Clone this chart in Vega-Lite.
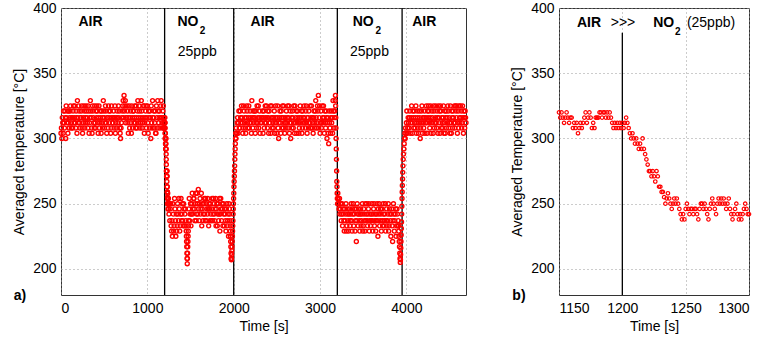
{
"$schema": "https://vega.github.io/schema/vega-lite/v6.json",
"background": "white",
"padding": {"left": 12, "top": 0, "right": 0, "bottom": 0},
"bounds": "flush",
"spacing": 93,
"config": {
  "font": "Liberation Sans",
  "view": {"stroke": "#333333", "strokeWidth": 1},
  "axis": {"labelFont": "Liberation Sans", "titleFont": "Liberation Sans", "labelFontSize": 14, "titleFontSize": 14, "titleFontWeight": "normal", "labelColor": "#000000", "titleColor": "#000000", "ticks": false, "domain": false, "grid": true, "gridColor": "#999999", "gridDash": [1, 3], "gridWidth": 1, "labelPadding": 5},
  "axisX": {"labelPadding": 6, "titlePadding": 4, "format": "d"},
  "axisY": {"titlePadding": 6}
},
"datasets": {
  "full": [
{"x":0,"y":304},{"x":10,"y":300},{"x":20,"y":312},{"x":30,"y":321},{"x":40,"y":308},{"x":50,"y":316},{"x":60,"y":325},{"x":70,"y":312},{"x":80,"y":304},{"x":90,"y":321},
{"x":100,"y":316},{"x":110,"y":325},{"x":120,"y":308},{"x":130,"y":316},{"x":140,"y":321},{"x":150,"y":312},{"x":160,"y":325},{"x":170,"y":308},{"x":180,"y":316},{"x":190,"y":329},
{"x":200,"y":312},{"x":210,"y":321},{"x":220,"y":308},{"x":230,"y":316},{"x":240,"y":325},{"x":250,"y":304},{"x":260,"y":316},{"x":270,"y":321},{"x":280,"y":312},{"x":290,"y":325},
{"x":300,"y":316},{"x":310,"y":308},{"x":320,"y":321},{"x":330,"y":312},{"x":340,"y":329},{"x":350,"y":316},{"x":360,"y":304},{"x":370,"y":321},{"x":380,"y":312},{"x":390,"y":325},
{"x":400,"y":308},{"x":410,"y":316},{"x":420,"y":321},{"x":430,"y":304},{"x":440,"y":325},{"x":450,"y":312},{"x":460,"y":316},{"x":470,"y":321},{"x":480,"y":308},{"x":490,"y":329},
{"x":500,"y":316},{"x":510,"y":312},{"x":520,"y":321},{"x":530,"y":304},{"x":540,"y":316},{"x":550,"y":325},{"x":560,"y":312},{"x":570,"y":321},{"x":580,"y":308},{"x":590,"y":316},
{"x":600,"y":312},{"x":610,"y":321},{"x":620,"y":316},{"x":630,"y":304},{"x":640,"y":316},{"x":650,"y":321},{"x":660,"y":312},{"x":670,"y":316},{"x":680,"y":308},{"x":690,"y":300},
{"x":700,"y":312},{"x":710,"y":321},{"x":720,"y":329},{"x":730,"y":333},{"x":740,"y":325},{"x":750,"y":312},{"x":760,"y":316},{"x":770,"y":321},{"x":780,"y":304},{"x":790,"y":325},
{"x":800,"y":316},{"x":810,"y":312},{"x":820,"y":325},{"x":830,"y":308},{"x":840,"y":321},{"x":850,"y":316},{"x":860,"y":312},{"x":870,"y":325},{"x":880,"y":308},{"x":890,"y":329},
{"x":900,"y":316},{"x":910,"y":321},{"x":920,"y":312},{"x":930,"y":329},{"x":940,"y":308},{"x":950,"y":316},{"x":960,"y":325},{"x":970,"y":312},{"x":980,"y":321},{"x":990,"y":308},
{"x":1000,"y":325},{"x":1010,"y":304},{"x":1020,"y":316},{"x":1030,"y":321},{"x":1040,"y":300},{"x":1050,"y":312},{"x":1060,"y":329},{"x":1070,"y":316},{"x":1080,"y":308},{"x":1090,"y":321},
{"x":1100,"y":304},{"x":1110,"y":316},{"x":1120,"y":329},{"x":1130,"y":312},{"x":1140,"y":321},{"x":1150,"y":316},{"x":1160,"y":329},{"x":1170,"y":312},{"x":1180,"y":321},{"x":1190,"y":316},
{"x":5,"y":308},{"x":15,"y":316},{"x":25,"y":304},{"x":35,"y":312},{"x":45,"y":321},{"x":55,"y":300},{"x":65,"y":316},{"x":75,"y":321},{"x":85,"y":312},{"x":95,"y":308},
{"x":105,"y":321},{"x":115,"y":312},{"x":125,"y":316},{"x":135,"y":308},{"x":145,"y":325},{"x":155,"y":316},{"x":165,"y":312},{"x":175,"y":321},{"x":185,"y":304},{"x":195,"y":316},
{"x":205,"y":325},{"x":215,"y":312},{"x":225,"y":316},{"x":235,"y":321},{"x":245,"y":308},{"x":255,"y":312},{"x":265,"y":325},{"x":275,"y":308},{"x":285,"y":316},{"x":295,"y":321},
{"x":305,"y":312},{"x":315,"y":325},{"x":325,"y":304},{"x":335,"y":316},{"x":345,"y":321},{"x":355,"y":308},{"x":365,"y":325},{"x":375,"y":316},{"x":385,"y":308},{"x":395,"y":312},
{"x":405,"y":321},{"x":415,"y":325},{"x":425,"y":312},{"x":435,"y":316},{"x":445,"y":308},{"x":455,"y":321},{"x":465,"y":304},{"x":475,"y":312},{"x":485,"y":316},{"x":495,"y":321},
{"x":505,"y":308},{"x":515,"y":325},{"x":525,"y":312},{"x":535,"y":316},{"x":545,"y":308},{"x":555,"y":321},{"x":565,"y":316},{"x":575,"y":304},{"x":585,"y":325},{"x":595,"y":312},
{"x":605,"y":316},{"x":615,"y":308},{"x":625,"y":325},{"x":635,"y":312},{"x":645,"y":308},{"x":655,"y":316},{"x":665,"y":325},{"x":675,"y":321},{"x":685,"y":304},{"x":695,"y":308},
{"x":705,"y":316},{"x":715,"y":325},{"x":725,"y":316},{"x":735,"y":321},{"x":745,"y":329},{"x":755,"y":316},{"x":765,"y":325},{"x":775,"y":312},{"x":785,"y":316},{"x":795,"y":308},
{"x":805,"y":321},{"x":815,"y":304},{"x":825,"y":316},{"x":835,"y":321},{"x":845,"y":312},{"x":855,"y":325},{"x":865,"y":308},{"x":875,"y":316},{"x":885,"y":321},{"x":895,"y":312},
{"x":905,"y":325},{"x":915,"y":308},{"x":925,"y":316},{"x":935,"y":321},{"x":945,"y":312},{"x":955,"y":325},{"x":965,"y":304},{"x":975,"y":316},{"x":985,"y":325},{"x":995,"y":316},
{"x":1005,"y":312},{"x":1015,"y":321},{"x":1025,"y":308},{"x":1035,"y":316},{"x":1045,"y":325},{"x":1055,"y":308},{"x":1065,"y":316},{"x":1075,"y":321},{"x":1085,"y":312},{"x":1095,"y":304},
{"x":1105,"y":325},{"x":1115,"y":308},{"x":1125,"y":321},{"x":1135,"y":316},{"x":1145,"y":308},{"x":1155,"y":325},{"x":1165,"y":316},{"x":1175,"y":308},{"x":1185,"y":325},
{"x":1191,"y":316},{"x":1192,"y":312},{"x":1193,"y":308},{"x":1194,"y":312},{"x":1195,"y":308},{"x":1196,"y":312},{"x":1197,"y":308},{"x":1198,"y":312},{"x":1199,"y":308},{"x":1200,"y":312},
{"x":1201,"y":308},{"x":1202,"y":312},{"x":1203,"y":316},{"x":1204,"y":312},{"x":1205,"y":308},{"x":1206,"y":304},{"x":1207,"y":300},{"x":1208,"y":304},{"x":1209,"y":300},{"x":1210,"y":296},
{"x":1211,"y":300},{"x":1212,"y":296},{"x":1213,"y":292},{"x":1214,"y":296},{"x":1215,"y":292},{"x":1216,"y":300},{"x":1217,"y":292},{"x":1218,"y":288},{"x":1219,"y":284},{"x":1220,"y":280},
{"x":1221,"y":275},{"x":1222,"y":275},{"x":1223,"y":271},{"x":1224,"y":275},{"x":1225,"y":271},{"x":1226,"y":267},{"x":1227,"y":275},{"x":1228,"y":271},{"x":1229,"y":263},{"x":1230,"y":263},
{"x":1231,"y":259},{"x":1232,"y":259},{"x":1233,"y":255},{"x":1234,"y":250},{"x":1235,"y":254},{"x":1236,"y":258},{"x":1237,"y":254},{"x":1238,"y":250},{"x":1239,"y":246},{"x":1240,"y":250},
{"x":1241,"y":254},{"x":1242,"y":250},{"x":1243,"y":254},{"x":1244,"y":250},{"x":1245,"y":246},
{"x":1250,"y":242},{"x":1260,"y":237},{"x":1270,"y":250},{"x":1280,"y":229},{"x":1290,"y":225},{"x":1300,"y":242},{"x":1310,"y":233},{"x":1320,"y":246},{"x":1330,"y":225},{"x":1340,"y":229},
{"x":1350,"y":250},{"x":1360,"y":237},{"x":1370,"y":246},{"x":1380,"y":233},{"x":1390,"y":254},{"x":1400,"y":242},{"x":1410,"y":237},{"x":1420,"y":250},{"x":1430,"y":233},{"x":1440,"y":246},
{"x":1446,"y":237},{"x":1448,"y":233},{"x":1450,"y":229},{"x":1452,"y":225},{"x":1454,"y":221},{"x":1456,"y":217},{"x":1458,"y":212},{"x":1460,"y":208},{"x":1462,"y":204},{"x":1464,"y":208},
{"x":1466,"y":212},{"x":1468,"y":217},{"x":1470,"y":221},{"x":1472,"y":225},{"x":1474,"y":229},{"x":1476,"y":233},{"x":1478,"y":237},
{"x":1480,"y":246},{"x":1490,"y":237},{"x":1500,"y":250},{"x":1510,"y":242},{"x":1520,"y":258},{"x":1530,"y":246},{"x":1540,"y":254},{"x":1550,"y":237},{"x":1560,"y":258},{"x":1570,"y":242},
{"x":1580,"y":250},{"x":1590,"y":261},{"x":1600,"y":237},{"x":1610,"y":254},{"x":1620,"y":246},{"x":1630,"y":233},{"x":1640,"y":250},{"x":1650,"y":242},{"x":1660,"y":254},{"x":1670,"y":237},
{"x":1680,"y":250},{"x":1690,"y":246},{"x":1700,"y":254},{"x":1710,"y":233},{"x":1720,"y":246},{"x":1730,"y":250},{"x":1740,"y":237},{"x":1750,"y":254},{"x":1760,"y":242},{"x":1770,"y":250},
{"x":1780,"y":237},{"x":1790,"y":254},{"x":1800,"y":246},{"x":1810,"y":233},{"x":1820,"y":250},{"x":1830,"y":242},{"x":1840,"y":229},{"x":1850,"y":254},{"x":1860,"y":237},{"x":1870,"y":246},
{"x":1880,"y":250},{"x":1890,"y":233},{"x":1900,"y":242},{"x":1910,"y":229},{"x":1920,"y":250},{"x":1930,"y":237},{"x":1940,"y":225},{"x":1950,"y":246},
{"x":1255,"y":250},{"x":1265,"y":246},{"x":1275,"y":233},{"x":1285,"y":237},{"x":1295,"y":250},{"x":1305,"y":229},{"x":1315,"y":254},{"x":1325,"y":237},{"x":1335,"y":242},{"x":1345,"y":233},
{"x":1355,"y":242},{"x":1365,"y":254},{"x":1375,"y":229},{"x":1385,"y":242},{"x":1395,"y":237},{"x":1405,"y":250},{"x":1415,"y":233},{"x":1425,"y":246},{"x":1435,"y":242},
{"x":1485,"y":254},{"x":1495,"y":242},{"x":1505,"y":233},{"x":1515,"y":250},{"x":1525,"y":242},{"x":1535,"y":254},{"x":1545,"y":246},{"x":1555,"y":250},{"x":1565,"y":237},{"x":1575,"y":258},{"x":1585,"y":242},{"x":1595,"y":246},
{"x":1605,"y":250},{"x":1615,"y":242},{"x":1625,"y":258},{"x":1635,"y":246},{"x":1645,"y":237},{"x":1655,"y":250},{"x":1665,"y":242},{"x":1675,"y":254},{"x":1685,"y":237},{"x":1695,"y":242},
{"x":1705,"y":246},{"x":1715,"y":250},{"x":1725,"y":237},{"x":1735,"y":242},{"x":1745,"y":246},{"x":1755,"y":237},{"x":1765,"y":254},{"x":1775,"y":242},{"x":1785,"y":246},{"x":1795,"y":233},
{"x":1805,"y":250},{"x":1815,"y":242},{"x":1825,"y":237},{"x":1835,"y":254},{"x":1845,"y":242},{"x":1855,"y":246},{"x":1865,"y":250},{"x":1875,"y":233},{"x":1885,"y":242},{"x":1895,"y":246},
{"x":1905,"y":237},{"x":1915,"y":246},{"x":1925,"y":233},{"x":1935,"y":242},{"x":1945,"y":250},
{"x":1955,"y":242},{"x":1957,"y":237},{"x":1959,"y":233},{"x":1961,"y":229},{"x":1963,"y":225},{"x":1965,"y":221},{"x":1967,"y":217},{"x":1969,"y":212},{"x":1971,"y":208},{"x":1973,"y":207},
{"x":1975,"y":208},{"x":1977,"y":211},{"x":1979,"y":214},{"x":1981,"y":217},{"x":1983,"y":221},{"x":1985,"y":225},{"x":1987,"y":229},{"x":1989,"y":233},{"x":1991,"y":237},{"x":1993,"y":242},
{"x":1995,"y":246},{"x":1997,"y":250},{"x":1999,"y":254},{"x":2001,"y":258},{"x":2003,"y":263},{"x":2005,"y":267},{"x":2007,"y":271},{"x":2009,"y":275},{"x":2011,"y":279},{"x":2013,"y":284},
{"x":2015,"y":288},{"x":2017,"y":292},{"x":2019,"y":296},{"x":2021,"y":300},{"x":2023,"y":304},{"x":2026,"y":300},{"x":2030,"y":308},
{"x":2040,"y":312},{"x":2050,"y":304},{"x":2060,"y":321},{"x":2070,"y":308},{"x":2080,"y":316},{"x":2090,"y":325},{"x":2100,"y":312},{"x":2110,"y":308},{"x":2120,"y":321},{"x":2130,"y":316},
{"x":2140,"y":304},{"x":2150,"y":325},{"x":2160,"y":312},{"x":2170,"y":316},{"x":2180,"y":308},{"x":2190,"y":321},{"x":2200,"y":312},{"x":2210,"y":329},{"x":2220,"y":308},{"x":2230,"y":316},
{"x":2240,"y":321},{"x":2250,"y":304},{"x":2260,"y":312},{"x":2270,"y":325},{"x":2280,"y":316},{"x":2290,"y":308},{"x":2300,"y":321},{"x":2310,"y":312},{"x":2320,"y":329},{"x":2330,"y":316},
{"x":2340,"y":304},{"x":2350,"y":321},{"x":2360,"y":312},{"x":2370,"y":316},{"x":2380,"y":325},{"x":2390,"y":308},{"x":2400,"y":316},{"x":2410,"y":321},{"x":2420,"y":312},{"x":2430,"y":304},
{"x":2440,"y":325},{"x":2450,"y":316},{"x":2460,"y":308},{"x":2470,"y":321},{"x":2480,"y":312},{"x":2490,"y":316},{"x":2500,"y":304},{"x":2510,"y":325},{"x":2520,"y":300},{"x":2530,"y":316},
{"x":2540,"y":312},{"x":2550,"y":321},{"x":2560,"y":308},{"x":2570,"y":316},{"x":2580,"y":325},{"x":2590,"y":304},{"x":2600,"y":312},{"x":2610,"y":321},{"x":2620,"y":316},{"x":2630,"y":308},
{"x":2640,"y":325},{"x":2650,"y":312},{"x":2660,"y":300},{"x":2670,"y":316},{"x":2680,"y":321},{"x":2690,"y":308},{"x":2700,"y":312},{"x":2710,"y":325},{"x":2720,"y":316},{"x":2730,"y":304},
{"x":2740,"y":321},{"x":2750,"y":312},{"x":2760,"y":308},{"x":2770,"y":325},{"x":2780,"y":316},{"x":2790,"y":304},{"x":2800,"y":321},{"x":2810,"y":312},{"x":2820,"y":316},{"x":2830,"y":308},
{"x":2840,"y":325},{"x":2850,"y":304},{"x":2860,"y":316},{"x":2870,"y":321},{"x":2880,"y":312},{"x":2890,"y":308},{"x":2900,"y":325},{"x":2910,"y":316},{"x":2920,"y":304},{"x":2930,"y":321},
{"x":2940,"y":312},{"x":2950,"y":329},{"x":2960,"y":308},{"x":2970,"y":325},{"x":2980,"y":333},{"x":2990,"y":316},{"x":3000,"y":304},{"x":3010,"y":321},{"x":3020,"y":312},{"x":3030,"y":316},
{"x":3040,"y":325},{"x":3050,"y":304},{"x":3060,"y":312},{"x":3070,"y":321},{"x":3080,"y":300},{"x":3090,"y":316},{"x":3100,"y":296},{"x":3110,"y":312},{"x":3120,"y":304},{"x":3130,"y":321},
{"x":3140,"y":316},{"x":3150,"y":329},{"x":3160,"y":308},{"x":3170,"y":321},{"x":3175,"y":329},{"x":3178,"y":333},
{"x":2035,"y":304},{"x":2045,"y":316},{"x":2055,"y":312},{"x":2065,"y":308},{"x":2075,"y":321},{"x":2085,"y":312},{"x":2095,"y":316},{"x":2105,"y":304},{"x":2115,"y":325},{"x":2125,"y":312},
{"x":2135,"y":308},{"x":2145,"y":316},{"x":2155,"y":321},{"x":2165,"y":308},{"x":2175,"y":325},{"x":2185,"y":312},{"x":2195,"y":316},{"x":2205,"y":304},{"x":2215,"y":316},{"x":2225,"y":321},
{"x":2235,"y":312},{"x":2245,"y":316},{"x":2255,"y":321},{"x":2265,"y":308},{"x":2275,"y":312},{"x":2285,"y":325},{"x":2295,"y":316},{"x":2305,"y":304},{"x":2315,"y":316},{"x":2325,"y":312},
{"x":2335,"y":321},{"x":2345,"y":316},{"x":2355,"y":308},{"x":2365,"y":325},{"x":2375,"y":312},{"x":2385,"y":316},{"x":2395,"y":321},{"x":2405,"y":304},{"x":2415,"y":312},{"x":2425,"y":325},
{"x":2435,"y":316},{"x":2445,"y":308},{"x":2455,"y":312},{"x":2465,"y":316},{"x":2475,"y":304},{"x":2485,"y":325},{"x":2495,"y":312},{"x":2505,"y":316},{"x":2515,"y":308},{"x":2525,"y":312},
{"x":2535,"y":321},{"x":2545,"y":304},{"x":2555,"y":316},{"x":2565,"y":325},{"x":2575,"y":308},{"x":2585,"y":312},{"x":2595,"y":316},{"x":2605,"y":308},{"x":2615,"y":312},{"x":2625,"y":325},
{"x":2635,"y":316},{"x":2645,"y":304},{"x":2655,"y":321},{"x":2665,"y":312},{"x":2675,"y":308},{"x":2685,"y":316},{"x":2695,"y":325},{"x":2705,"y":304},{"x":2715,"y":312},{"x":2725,"y":321},
{"x":2735,"y":312},{"x":2745,"y":316},{"x":2755,"y":304},{"x":2765,"y":316},{"x":2775,"y":312},{"x":2785,"y":321},{"x":2795,"y":308},{"x":2805,"y":316},{"x":2815,"y":325},{"x":2825,"y":312},
{"x":2835,"y":321},{"x":2845,"y":312},{"x":2855,"y":316},{"x":2865,"y":308},{"x":2875,"y":312},{"x":2885,"y":325},{"x":2895,"y":316},{"x":2905,"y":308},{"x":2915,"y":312},{"x":2925,"y":316},
{"x":2935,"y":308},{"x":2945,"y":321},{"x":2955,"y":316},{"x":2965,"y":312},{"x":2975,"y":321},{"x":2985,"y":308},{"x":2995,"y":325},{"x":3005,"y":312},{"x":3015,"y":308},{"x":3025,"y":325},
{"x":3035,"y":312},{"x":3045,"y":316},{"x":3055,"y":321},{"x":3065,"y":308},{"x":3075,"y":316},{"x":3085,"y":312},{"x":3095,"y":304},{"x":3105,"y":321},{"x":3115,"y":308},{"x":3125,"y":316},
{"x":3135,"y":312},{"x":3145,"y":304},{"x":3155,"y":321},{"x":3165,"y":316},
{"x":3180,"y":325},{"x":3182,"y":316},{"x":3184,"y":308},{"x":3186,"y":300},{"x":3188,"y":292},{"x":3190,"y":284},{"x":3192,"y":275},{"x":3194,"y":267},{"x":3196,"y":263},{"x":3198,"y":258},
{"x":3200,"y":254},{"x":3203,"y":250},{"x":3206,"y":258},{"x":3210,"y":254},{"x":3215,"y":250},{"x":3220,"y":246},{"x":3225,"y":254},{"x":3230,"y":242},
{"x":3240,"y":250},{"x":3250,"y":242},{"x":3260,"y":233},{"x":3270,"y":246},{"x":3280,"y":229},{"x":3290,"y":237},{"x":3300,"y":250},{"x":3310,"y":233},{"x":3320,"y":242},{"x":3330,"y":229},
{"x":3340,"y":246},{"x":3350,"y":237},{"x":3360,"y":250},{"x":3370,"y":229},{"x":3380,"y":242},{"x":3390,"y":233},{"x":3400,"y":246},{"x":3410,"y":237},{"x":3420,"y":221},{"x":3430,"y":250},
{"x":3440,"y":233},{"x":3450,"y":242},{"x":3460,"y":229},{"x":3470,"y":246},{"x":3480,"y":237},{"x":3490,"y":250},{"x":3500,"y":233},{"x":3510,"y":242},{"x":3520,"y":229},{"x":3530,"y":237},
{"x":3540,"y":250},{"x":3550,"y":233},{"x":3560,"y":246},{"x":3570,"y":229},{"x":3580,"y":242},{"x":3590,"y":237},{"x":3600,"y":250},{"x":3610,"y":229},{"x":3620,"y":246},{"x":3630,"y":233},
{"x":3640,"y":242},{"x":3650,"y":237},{"x":3660,"y":250},{"x":3670,"y":225},{"x":3680,"y":242},{"x":3690,"y":233},{"x":3700,"y":246},{"x":3710,"y":229},{"x":3720,"y":237},{"x":3730,"y":250},
{"x":3740,"y":233},{"x":3750,"y":242},{"x":3760,"y":229},{"x":3770,"y":246},{"x":3780,"y":237},{"x":3790,"y":250},{"x":3800,"y":233},{"x":3810,"y":242},{"x":3820,"y":225},{"x":3830,"y":246},
{"x":3840,"y":221},{"x":3850,"y":250},{"x":3860,"y":229},{"x":3870,"y":242},{"x":3880,"y":225},{"x":3890,"y":246},{"x":3900,"y":233},
{"x":3235,"y":246},{"x":3245,"y":237},{"x":3255,"y":250},{"x":3265,"y":242},{"x":3275,"y":237},{"x":3285,"y":246},{"x":3295,"y":242},{"x":3305,"y":229},{"x":3315,"y":246},{"x":3325,"y":237},
{"x":3335,"y":242},{"x":3345,"y":233},{"x":3355,"y":242},{"x":3365,"y":237},{"x":3375,"y":246},{"x":3385,"y":250},{"x":3395,"y":242},{"x":3405,"y":229},{"x":3415,"y":246},{"x":3425,"y":237},
{"x":3435,"y":242},{"x":3445,"y":246},{"x":3455,"y":237},{"x":3465,"y":242},{"x":3475,"y":233},{"x":3485,"y":242},{"x":3495,"y":229},{"x":3505,"y":246},{"x":3515,"y":237},{"x":3525,"y":250},
{"x":3535,"y":242},{"x":3545,"y":237},{"x":3555,"y":242},{"x":3565,"y":250},{"x":3575,"y":237},{"x":3585,"y":233},{"x":3595,"y":242},{"x":3605,"y":237},{"x":3615,"y":242},{"x":3625,"y":250},
{"x":3635,"y":237},{"x":3645,"y":229},{"x":3655,"y":242},{"x":3665,"y":237},{"x":3675,"y":246},{"x":3685,"y":250},{"x":3695,"y":237},{"x":3705,"y":242},{"x":3715,"y":246},{"x":3725,"y":233},
{"x":3735,"y":242},{"x":3745,"y":237},{"x":3755,"y":250},{"x":3765,"y":237},{"x":3775,"y":233},{"x":3785,"y":242},{"x":3795,"y":229},{"x":3805,"y":246},{"x":3815,"y":237},{"x":3825,"y":242},
{"x":3835,"y":233},{"x":3845,"y":237},{"x":3855,"y":242},{"x":3865,"y":237},{"x":3875,"y":246},{"x":3885,"y":233},{"x":3895,"y":242},
{"x":3905,"y":237},{"x":3908,"y":233},{"x":3911,"y":229},{"x":3914,"y":225},{"x":3917,"y":221},{"x":3920,"y":217},{"x":3923,"y":212},{"x":3926,"y":208},{"x":3929,"y":205},{"x":3931,"y":207},
{"x":3933,"y":211},{"x":3935,"y":216},{"x":3937,"y":221},{"x":3939,"y":226},{"x":3941,"y":231},{"x":3943,"y":236},{"x":3945,"y":242},{"x":3947,"y":248},{"x":3949,"y":254},{"x":3951,"y":259},
{"x":3953,"y":264},{"x":3955,"y":269},{"x":3957,"y":274},{"x":3960,"y":279},{"x":3963,"y":284},{"x":3966,"y":288},{"x":3970,"y":292},{"x":3974,"y":296},{"x":3978,"y":300},{"x":3982,"y":304},
{"x":3986,"y":300},{"x":3990,"y":308},
{"x":4000,"y":312},{"x":4010,"y":304},{"x":4020,"y":316},{"x":4030,"y":308},{"x":4040,"y":321},{"x":4050,"y":312},{"x":4060,"y":325},{"x":4070,"y":304},{"x":4080,"y":316},{"x":4090,"y":321},
{"x":4100,"y":308},{"x":4110,"y":325},{"x":4120,"y":312},{"x":4130,"y":316},{"x":4140,"y":304},{"x":4150,"y":321},{"x":4160,"y":300},{"x":4170,"y":312},{"x":4180,"y":325},{"x":4190,"y":316},
{"x":4200,"y":308},{"x":4210,"y":321},{"x":4220,"y":312},{"x":4230,"y":325},{"x":4240,"y":304},{"x":4250,"y":316},{"x":4260,"y":321},{"x":4270,"y":308},{"x":4280,"y":325},{"x":4290,"y":312},
{"x":4300,"y":316},{"x":4310,"y":304},{"x":4320,"y":321},{"x":4330,"y":312},{"x":4340,"y":325},{"x":4350,"y":308},{"x":4360,"y":316},{"x":4370,"y":325},{"x":4380,"y":312},{"x":4390,"y":304},
{"x":4400,"y":321},{"x":4410,"y":316},{"x":4420,"y":308},{"x":4430,"y":325},{"x":4440,"y":312},{"x":4450,"y":304},{"x":4460,"y":321},{"x":4470,"y":316},{"x":4480,"y":325},{"x":4490,"y":308},
{"x":4500,"y":312},{"x":4510,"y":325},{"x":4520,"y":304},{"x":4530,"y":316},{"x":4540,"y":321},{"x":4550,"y":312},{"x":4560,"y":308},{"x":4570,"y":325},{"x":4580,"y":316},{"x":4590,"y":304},
{"x":4600,"y":321},{"x":4610,"y":325},{"x":4620,"y":312},{"x":4630,"y":316},{"x":4640,"y":308},{"x":4650,"y":325},{"x":4660,"y":304},{"x":4670,"y":316},{"x":4680,"y":321},{"x":4690,"y":312},
{"x":3995,"y":304},{"x":4005,"y":321},{"x":4015,"y":308},{"x":4025,"y":312},{"x":4035,"y":316},{"x":4045,"y":304},{"x":4055,"y":316},{"x":4065,"y":312},{"x":4075,"y":321},{"x":4085,"y":308},
{"x":4095,"y":312},{"x":4105,"y":316},{"x":4115,"y":304},{"x":4125,"y":321},{"x":4135,"y":308},{"x":4145,"y":312},{"x":4155,"y":316},{"x":4165,"y":308},{"x":4175,"y":321},{"x":4185,"y":304},
{"x":4195,"y":312},{"x":4205,"y":316},{"x":4215,"y":304},{"x":4225,"y":316},{"x":4235,"y":312},{"x":4245,"y":321},{"x":4255,"y":325},{"x":4265,"y":312},{"x":4275,"y":316},{"x":4285,"y":304},
{"x":4295,"y":321},{"x":4305,"y":312},{"x":4315,"y":325},{"x":4325,"y":308},{"x":4335,"y":316},{"x":4345,"y":312},{"x":4355,"y":321},{"x":4365,"y":304},{"x":4375,"y":316},{"x":4385,"y":321},
{"x":4395,"y":325},{"x":4405,"y":308},{"x":4415,"y":312},{"x":4425,"y":316},{"x":4435,"y":304},{"x":4445,"y":321},{"x":4455,"y":316},{"x":4465,"y":308},{"x":4475,"y":312},{"x":4485,"y":321},
{"x":4495,"y":316},{"x":4505,"y":304},{"x":4515,"y":312},{"x":4525,"y":321},{"x":4535,"y":308},{"x":4545,"y":316},{"x":4555,"y":325},{"x":4565,"y":312},{"x":4575,"y":321},{"x":4585,"y":325},
{"x":4595,"y":312},{"x":4605,"y":308},{"x":4615,"y":316},{"x":4625,"y":325},{"x":4635,"y":321},{"x":4645,"y":312},{"x":4655,"y":316},{"x":4665,"y":321},{"x":4675,"y":308},{"x":4685,"y":316}
  ],
  "zoom": [
{"x":1150,"y":320},{"x":1151,"y":316},{"x":1152,"y":320},{"x":1153,"y":316},{"x":1154,"y":312},{"x":1155,"y":316},{"x":1156,"y":320},{"x":1157,"y":316},{"x":1158,"y":312},{"x":1159,"y":316},
{"x":1160,"y":316},{"x":1161,"y":308},{"x":1162,"y":312},{"x":1163,"y":308},{"x":1164,"y":312},{"x":1165,"y":304},{"x":1166,"y":308},{"x":1167,"y":312},{"x":1168,"y":308},{"x":1169,"y":312},
{"x":1170,"y":316},{"x":1171,"y":320},{"x":1172,"y":312},{"x":1173,"y":316},{"x":1174,"y":320},{"x":1175,"y":316},{"x":1176,"y":308},{"x":1177,"y":312},{"x":1178,"y":308},{"x":1179,"y":316},
{"x":1180,"y":316},{"x":1181,"y":316},{"x":1182,"y":320},{"x":1183,"y":320},{"x":1184,"y":316},{"x":1185,"y":320},{"x":1186,"y":320},{"x":1187,"y":316},{"x":1188,"y":320},{"x":1189,"y":316},
{"x":1190,"y":320},{"x":1191,"y":316},{"x":1192,"y":312},{"x":1193,"y":308},{"x":1194,"y":312},{"x":1195,"y":308},{"x":1196,"y":312},{"x":1197,"y":308},{"x":1198,"y":312},{"x":1199,"y":308},
{"x":1200,"y":312},{"x":1201,"y":308},{"x":1202,"y":312},{"x":1203,"y":316},{"x":1204,"y":312},{"x":1205,"y":308},{"x":1206,"y":304},{"x":1207,"y":300},{"x":1208,"y":304},{"x":1209,"y":300},
{"x":1210,"y":296},{"x":1211,"y":300},{"x":1212,"y":296},{"x":1213,"y":292},{"x":1214,"y":296},{"x":1215,"y":292},{"x":1216,"y":300},{"x":1217,"y":292},{"x":1218,"y":288},{"x":1219,"y":284},
{"x":1220,"y":280},{"x":1221,"y":275},{"x":1222,"y":275},{"x":1223,"y":271},{"x":1224,"y":275},{"x":1225,"y":271},{"x":1226,"y":267},{"x":1227,"y":275},{"x":1228,"y":271},{"x":1229,"y":263},
{"x":1230,"y":263},{"x":1231,"y":259},{"x":1232,"y":259},{"x":1233,"y":255},{"x":1234,"y":250},{"x":1235,"y":254},{"x":1236,"y":258},{"x":1237,"y":254},{"x":1238,"y":250},{"x":1239,"y":246},
{"x":1240,"y":250},{"x":1241,"y":254},{"x":1242,"y":250},{"x":1243,"y":254},{"x":1244,"y":250},{"x":1245,"y":246},{"x":1246,"y":242},{"x":1247,"y":238},{"x":1248,"y":242},{"x":1249,"y":238},
{"x":1250,"y":246},{"x":1251,"y":250},{"x":1252,"y":246},{"x":1253,"y":242},{"x":1254,"y":246},{"x":1255,"y":246},{"x":1256,"y":242},{"x":1257,"y":246},{"x":1258,"y":246},{"x":1259,"y":242},
{"x":1260,"y":238},{"x":1261,"y":246},{"x":1262,"y":250},{"x":1263,"y":250},{"x":1264,"y":246},{"x":1265,"y":250},{"x":1266,"y":246},{"x":1267,"y":242},{"x":1268,"y":238},{"x":1269,"y":246},
{"x":1270,"y":250},{"x":1271,"y":254},{"x":1272,"y":250},{"x":1273,"y":246},{"x":1274,"y":242},{"x":1275,"y":250},{"x":1276,"y":254},{"x":1277,"y":250},{"x":1278,"y":254},{"x":1279,"y":250},
{"x":1280,"y":254},{"x":1281,"y":250},{"x":1282,"y":246},{"x":1283,"y":250},{"x":1284,"y":254},{"x":1285,"y":246},{"x":1286,"y":242},{"x":1287,"y":238},{"x":1288,"y":242},{"x":1289,"y":246},
{"x":1290,"y":250},{"x":1291,"y":242},{"x":1292,"y":238},{"x":1293,"y":242},{"x":1294,"y":238},{"x":1295,"y":242},{"x":1296,"y":246},{"x":1297,"y":250},{"x":1298,"y":246},{"x":1299,"y":242},
{"x":1300,"y":242}
  ],
  "vlinesA": [{"x":1200,"y":180,"y2":400},{"x":2000,"y":180,"y2":400},{"x":3200,"y":180,"y2":400},{"x":3950,"y":180,"y2":400}],
  "vlinesB": [{"x":1200,"y":180,"y2":381}],
  "boldA": [{"x":341,"y":389,"label":"AIR"},{"x":2335,"y":389,"label":"AIR"},{"x":4206,"y":389,"label":"AIR"},{"x":1470,"y":389,"label":"NO"},{"x":3499,"y":389,"label":"NO"},{"x":-476,"y":179,"label":"a)"}],
  "subA": [{"x":1640,"y":382,"label":"2"},{"x":3673,"y":382,"label":"2"}],
  "normA": [{"x":1578,"y":366,"label":"25ppb"},{"x":3572,"y":366,"label":"25ppb"}],
  "boldB": [{"x":1173.7,"y":388.5,"label":"AIR"},{"x":1232.7,"y":388.5,"label":"NO"},{"x":1118.4,"y":179,"label":"b)"}],
  "subB": [{"x":1243.8,"y":381.8,"label":"2"}],
  "normB": [{"x":1200.5,"y":388.5,"label":">>>"},{"x":1270,"y":388.5,"label":"(25ppb)"}]
},
"hconcat": [
  {
    "width": 405, "height": 287,
    "encoding": {
      "x": {"field": "x", "type": "quantitative", "scale": {"domain": [0, 4690], "nice": false, "zero": false}, "axis": {"values": [0, 1000, 2000, 3000, 4000], "title": "Time [s]"}},
      "y": {"field": "y", "type": "quantitative", "scale": {"domain": [180, 400], "nice": false, "zero": false}, "axis": {"values": [200, 250, 300, 350, 400], "title": "Averaged temperature [°C]"}}
    },
    "layer": [
      {"data": {"name": "vlinesA"}, "mark": {"type": "rule", "color": "#000000", "strokeWidth": 1.3}, "encoding": {"y2": {"field": "y2"}}},
      {"data": {"name": "full"}, "mark": {"type": "point", "shape": "circle", "filled": false, "color": "#ff0000", "size": 16, "strokeWidth": 1.4, "opacity": 1}},
      {"data": {"name": "boldA"}, "mark": {"type": "text", "font": "Liberation Sans", "fontSize": 14, "fontWeight": "bold", "color": "#000000", "align": "center", "baseline": "middle"}, "encoding": {"text": {"field": "label"}}},
      {"data": {"name": "subA"}, "mark": {"type": "text", "font": "Liberation Sans", "fontSize": 10, "fontWeight": "bold", "color": "#000000", "align": "center", "baseline": "middle"}, "encoding": {"text": {"field": "label"}}},
      {"data": {"name": "normA"}, "mark": {"type": "text", "font": "Liberation Sans", "fontSize": 14, "color": "#000000", "align": "center", "baseline": "middle"}, "encoding": {"text": {"field": "label"}}}
    ]
  },
  {
    "width": 190, "height": 287,
    "encoding": {
      "x": {"field": "x", "type": "quantitative", "scale": {"domain": [1150, 1300], "nice": false, "zero": false}, "axis": {"values": [1150, 1200, 1250, 1300], "title": "Time [s]"}},
      "y": {"field": "y", "type": "quantitative", "scale": {"domain": [180, 400], "nice": false, "zero": false}, "axis": {"values": [200, 250, 300, 350, 400], "title": "Averaged Temperature [°C]"}}
    },
    "layer": [
      {"data": {"name": "vlinesB"}, "mark": {"type": "rule", "color": "#000000", "strokeWidth": 1.3}, "encoding": {"y2": {"field": "y2"}}},
      {"data": {"name": "zoom"}, "mark": {"type": "point", "shape": "circle", "filled": false, "color": "#ff0000", "size": 12, "strokeWidth": 1.2, "opacity": 1}},
      {"data": {"name": "boldB"}, "mark": {"type": "text", "font": "Liberation Sans", "fontSize": 14, "fontWeight": "bold", "color": "#000000", "align": "center", "baseline": "middle"}, "encoding": {"text": {"field": "label"}}},
      {"data": {"name": "subB"}, "mark": {"type": "text", "font": "Liberation Sans", "fontSize": 10, "fontWeight": "bold", "color": "#000000", "align": "center", "baseline": "middle"}, "encoding": {"text": {"field": "label"}}},
      {"data": {"name": "normB"}, "mark": {"type": "text", "font": "Liberation Sans", "fontSize": 14, "color": "#000000", "align": "center", "baseline": "middle"}, "encoding": {"text": {"field": "label"}}}
    ]
  }
]
}
